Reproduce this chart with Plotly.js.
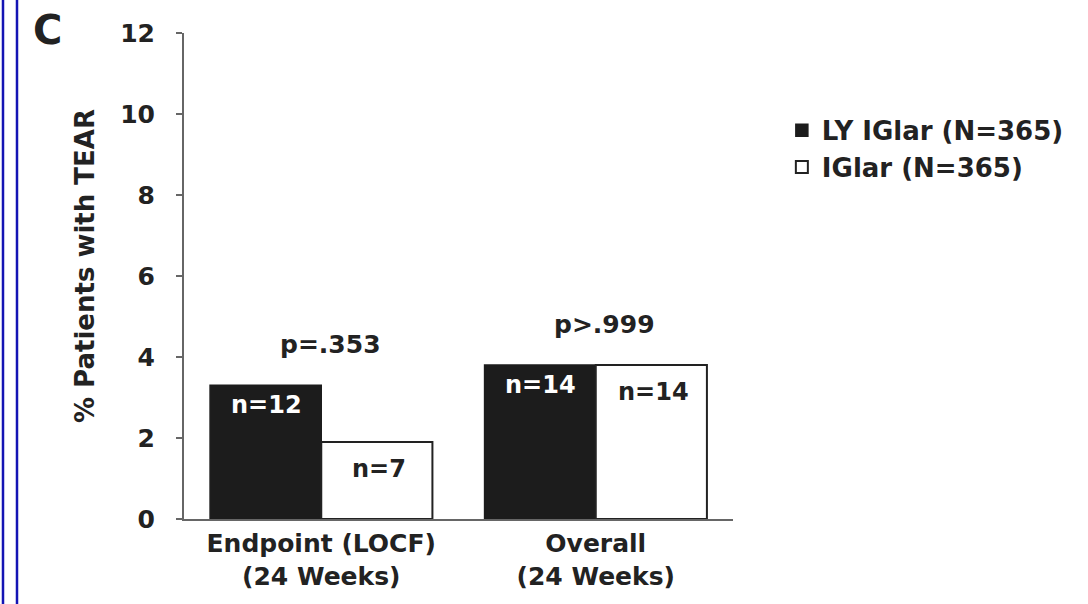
<!DOCTYPE html>
<html>
<head>
<meta charset="utf-8">
<script src="https://cdn.plot.ly/plotly-3.0.1.min.js"></script>
<style>html,body{margin:0;padding:0;background:#fff;}</style>
</head>
<body>
<div id="chart" style="width:1088px;height:604px;"></div>
<script>
// ---- data ----
const categories = ["Endpoint (LOCF)<br>(24 Weeks)", "Overall<br>(24 Weeks)"];
const seriesNames = ["LY IGlar (N=365)", "IGlar (N=365)"];
const lyValues = [3.3, 3.8];
const iglarValues = [1.9, 3.8];
const lyCounts = ["n=12", "n=14"];
const iglarCounts = ["n=7", "n=14"];
const pValues = ["p=.353", "p>.999"];
const yTicks = [0, 2, 4, 6, 8, 10, 12];

const FONT = "DejaVu Sans, Arial, sans-serif";
const TXT = "#222222";

const traces = [
  {
    type: "bar", name: "<b>" + seriesNames[0] + "</b>", x: categories, y: lyValues,
    marker: {color: "#1c1c1c", line: {color: "#1c1c1c", width: 1.5}},
    hoverinfo: "skip"
  },
  {
    type: "bar", name: "<b>" + seriesNames[1] + "</b>", x: categories, y: iglarValues,
    marker: {color: "#ffffff", line: {color: "#222222", width: 2}},
    hoverinfo: "skip"
  }
];

const annotations = [];
// n labels inside bars
categories.forEach((c, i) => {
  annotations.push({
    x: c, y: lyValues[i], xref: "x", yref: "y", xshift: -55, yshift: -4,
    yanchor: "top", showarrow: false, text: "<b>" + lyCounts[i] + "</b>",
    font: {family: FONT, size: 24, color: "#ffffff"}
  });
  annotations.push({
    x: c, y: iglarValues[i], xref: "x", yref: "y", xshift: 58, yshift: -11,
    yanchor: "top", showarrow: false, text: "<b>" + iglarCounts[i] + "</b>",
    font: {family: FONT, size: 24, color: TXT}
  });
  annotations.push({
    x: c, y: Math.max(lyValues[i], iglarValues[i]), xref: "x", yref: "y",
    xshift: 9, yshift: 24, yanchor: "bottom", showarrow: false,
    text: "<b>" + pValues[i] + "</b>",
    font: {family: FONT, size: 25, color: TXT}
  });
});
// panel letter
annotations.push({
  x: -0.2495, y: 1.006, xref: "paper", yref: "paper", showarrow: false,
  text: "<b>C</b>", font: {family: FONT, size: 40, color: TXT},
  xanchor: "center", yanchor: "middle"
});
// y axis title
annotations.push({
  x: -0.1803, y: 0.5206, xref: "paper", yref: "paper", showarrow: false,
  text: "<b>% Patients with TEAR</b>", textangle: -90,
  font: {family: FONT, size: 26, color: TXT},
  xanchor: "center", yanchor: "middle"
});

const layout = {
  width: 1088, height: 604,
  margin: {l: 184, r: 355, t: 33, b: 85},
  paper_bgcolor: "#ffffff", plot_bgcolor: "#ffffff",
  barmode: "group", bargap: 0.19, bargroupgap: 0,
  font: {family: FONT, color: TXT},
  showlegend: true,
  legend: {
    x: 1.089, y: 0.848, xanchor: "left", yanchor: "top",
    font: {family: FONT, size: 26, color: TXT},
    bgcolor: "rgba(0,0,0,0)", tracegroupgap: 0
  },
  xaxis: {
    range: [-0.5, 1.5], showline: true, linecolor: "#666666", linewidth: 2,
    ticks: "", showgrid: false, zeroline: false, fixedrange: true,
    tickfont: {family: FONT, size: 25, color: TXT},
    ticklabelstandoff: 1
  },
  yaxis: {
    range: [0, 12], tickvals: yTicks, ticktext: yTicks.map(v => "<b>" + v + "</b>"),
    showline: true, linecolor: "#666666", linewidth: 2,
    ticks: "outside", ticklen: 6, tickwidth: 2, tickcolor: "#666666",
    showgrid: false, zeroline: false, fixedrange: true,
    tickfont: {family: FONT, size: 25, color: TXT},
    ticklabelstandoff: 16
  },
  annotations: annotations,
  shapes: [
    {type: "line", xref: "paper", yref: "paper", x0: -0.3297, x1: -0.3297, y0: -0.2, y1: 1.1,
     line: {color: "#1414b4", width: 2.5}},
    {type: "line", xref: "paper", yref: "paper", x0: -0.3042, x1: -0.3042, y0: -0.2, y1: 1.1,
     line: {color: "#1414b4", width: 2.5}}
  ]
};

// bold category labels
layout.xaxis.tickvals = categories;
layout.xaxis.ticktext = categories.map(c => c.split("<br>").map(s => "<b>" + s + "</b>").join("<br>"));

Plotly.newPlot("chart", traces, layout, {staticPlot: true, displayModeBar: false});
</script>
</body>
</html>
